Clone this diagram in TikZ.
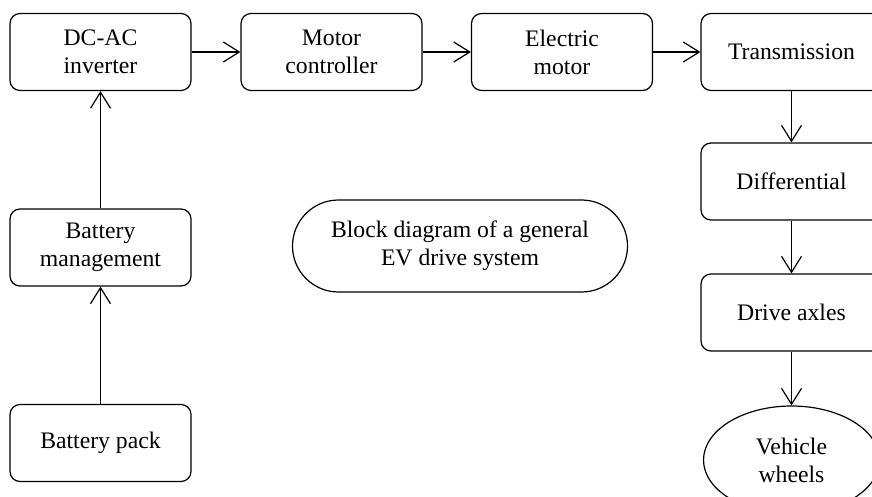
\documentclass[tikz,border=0pt]{standalone}
\usepackage{fontspec}
\setmainfont{Liberation Serif}
\usetikzlibrary{arrows.meta,shapes.geometric,shapes.misc}
\begin{document}
\begin{tikzpicture}[x=1pt,y=-1pt,
  every node/.style={font=\fontsize{23.7}{28}\selectfont, align=center, inner sep=0pt},
  blk/.style={draw, line width=1.2pt, rounded corners=10pt, minimum width=181pt, minimum height=77pt},
  arr/.style={line width=1.2pt, -{Straight Barb[length=16pt,width=20pt]}}]
\useasboundingbox (0,0) rectangle (872,497);
\node[blk] (inv) at (100.5,52) {DC-AC\\inverter};
\node[blk] (mc) at (331.5,52) {Motor\\controller};
\node[blk] (em) at (562,52) {Electric\\motor};
\node[blk] (tr) at (791.5,52) {Transmission};
\node[blk] (dif) at (791.5,181.5) {Differential};
\node[blk] (ax) at (791.5,312.5) {Drive axles};
\node[draw, line width=1.2pt, ellipse, minimum width=176pt, minimum height=108pt] (wh) at (791.5,460) {Vehicle\\wheels};
\node[blk] (bm) at (100.5,247.5) {Battery\\management};
\node[blk] (bp) at (100.5,443) {Battery pack};
\node[draw, line width=1.2pt, rounded rectangle, minimum width=335pt, minimum height=92pt] (title) at (460,246) {Block diagram of a general\\EV drive system};
\draw[arr] (inv) -- (mc);
\draw[arr] (mc) -- (em);
\draw[arr] (em) -- (tr);
\draw[arr] (tr) -- (dif);
\draw[arr] (dif) -- (ax);
\draw[arr] (ax) -- (wh);
\draw[arr] (bp) -- (bm);
\draw[arr] (bm) -- (inv);
\end{tikzpicture}
\end{document}
